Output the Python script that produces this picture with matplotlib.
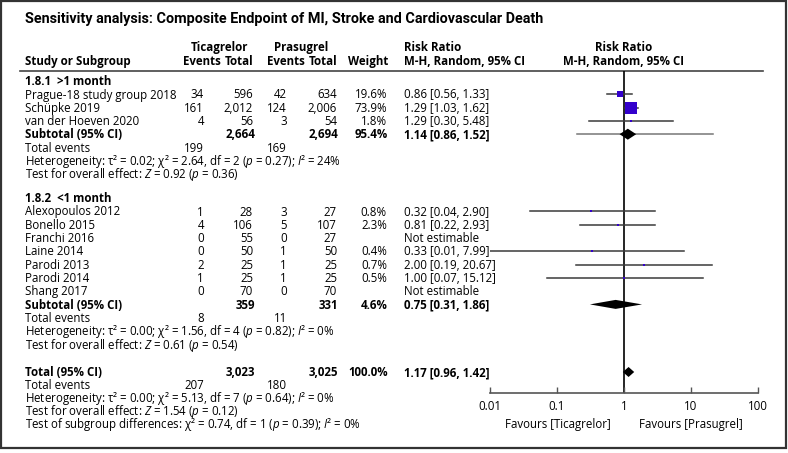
import numpy as np
import matplotlib.pyplot as plt
from matplotlib.patches import Rectangle

FONT = 'Open Sans'
plt.rcParams['font.family'] = [FONT, 'DejaVu Sans']
plt.rcParams['mathtext.fontset'] = 'custom'
plt.rcParams['mathtext.rm'] = FONT
plt.rcParams['mathtext.it'] = FONT + ':italic'
plt.rcParams['mathtext.bf'] = FONT + ':bold'

# ---- data ----
title = "Sensitivity analysis: Composite Endpoint of MI, Stroke and Cardiovascular Death"

g1_name = "1.8.1  >1 month"
g1_studies = ["Prague-18 study group 2018", "Schüpke 2019", "van der Hoeven 2020"]
g1_tic_ev = [34, 161, 4]
g1_tic_n = [596, 2012, 56]
g1_pra_ev = [42, 124, 3]
g1_pra_n = [634, 2006, 54]
g1_weight = [19.6, 73.9, 1.8]
g1_rr = [0.86, 1.29, 1.29]
g1_lo = [0.56, 1.03, 0.30]
g1_hi = [1.33, 1.62, 5.48]
g1_sub = dict(tic_n=2664, pra_n=2694, weight=95.4, rr=1.14, lo=0.86, hi=1.52,
              tic_ev=199, pra_ev=169)
g1_extra = (0.2, 21.0)  # grey line drawn through the subtotal row
g1_het = r"Heterogeneity: τ² = 0.02; χ² = 2.64, df = 2 ($p$ = 0.27); $I$² = 24%"
g1_test = r"Test for overall effect: $Z$ = 0.92 ($p$ = 0.36)"

g2_name = "1.8.2  <1 month"
g2_studies = ["Alexopoulos 2012", "Bonello 2015", "Franchi 2016", "Laine 2014",
              "Parodi 2013", "Parodi 2014", "Shang 2017"]
g2_tic_ev = [1, 4, 0, 0, 2, 1, 0]
g2_tic_n = [28, 106, 55, 50, 25, 25, 70]
g2_pra_ev = [3, 5, 0, 1, 1, 1, 0]
g2_pra_n = [27, 107, 27, 50, 25, 25, 70]
g2_weight = [0.8, 2.3, None, 0.4, 0.7, 0.5, None]
g2_rr = [0.32, 0.81, None, 0.33, 2.00, 1.00, None]
g2_lo = [0.04, 0.22, None, 0.01, 0.19, 0.07, None]
g2_hi = [2.90, 2.93, None, 7.99, 20.67, 15.12, None]
g2_sub = dict(tic_n=359, pra_n=331, weight=4.6, rr=0.75, lo=0.31, hi=1.86,
              tic_ev=8, pra_ev=11)
g2_het = r"Heterogeneity: τ² = 0.00; χ² = 1.56, df = 4 ($p$ = 0.82); $I$² = 0%"
g2_test = r"Test for overall effect: $Z$ = 0.61 ($p$ = 0.54)"

tot = dict(tic_n=3023, pra_n=3025, weight=100.0, rr=1.17, lo=0.96, hi=1.42,
           tic_ev=207, pra_ev=180)
tot_het = r"Heterogeneity: τ² = 0.00; χ² = 5.13, df = 7 ($p$ = 0.64); $I$² = 0%"
tot_test = r"Test for overall effect: $Z$ = 1.54 ($p$ = 0.12)"
tot_sub = r"Test of subgroup differences: χ² = 0.74, df = 1 ($p$ = 0.39); $I$² = 0%"

ticks = [0.01, 0.1, 1, 10, 100]
tick_labels = ["0.01", "0.1", "1", "10", "100"]
fav_left = "Favours [Ticagrelor]"
fav_right = "Favours [Prasugrel]"

# ---- layout (pixel units) ----
W, H = 788, 453
FS = 8.3
DY = 13.3
BLUE = '#3300cc'
X_STUDY, X_TE, X_TN, X_PE, X_PN, X_W, X_RR = 25, 204, 253, 287, 337, 387, 404
F_LEFT, F_RIGHT, F_TOP, F_AX = 490, 758, 71, 393

fig = plt.figure(figsize=(W / 100, H / 100), dpi=100)
ax = fig.add_axes([0, 0, 1, 1])
ax.set_xlim(0, W)
ax.set_ylim(H, 0)
ax.axis('off')

fx = fig.add_axes([F_LEFT / W, 1 - F_AX / H, (F_RIGHT - F_LEFT) / W, (F_AX - F_TOP) / H])
fx.set_xscale('log')
fx.set_xlim(ticks[0], ticks[-1])
fx.set_ylim(F_AX, F_TOP)
fx.patch.set_alpha(0)
for s in ['left', 'right', 'top']:
    fx.spines[s].set_visible(False)
fx.spines['bottom'].set_color('#555555')
fx.spines['bottom'].set_linewidth(1.2)
fx.set_yticks([])
fx.set_xticks(ticks)
fx.set_xticklabels(tick_labels, fontsize=FS)
fx.minorticks_off()
fx.tick_params(axis='x', direction='in', length=4, width=1, color='#555555', pad=5)
fx.plot([1, 1], [F_TOP, F_AX], color='black', lw=1.2, zorder=1)


def txt(x, y, s, ha='left', bold=False, size=FS, family=None):
    ax.text(x, y + 4.2, s, ha=ha, va='baseline', fontsize=size,
            fontweight='bold' if bold else 'normal', color='black',
            family=family)


def fmt(n):
    return f"{n:,}"


def study_row(y, name, te, tn, pe, pn, w, rr, lo, hi):
    txt(X_STUDY, y, name)
    txt(X_TE, y, str(te), ha='right')
    txt(X_TN, y, fmt(tn), ha='right')
    txt(X_PE, y, str(pe), ha='right')
    txt(X_PN, y, fmt(pn), ha='right')
    if rr is None:
        txt(X_RR, y, "Not estimable")
        return
    txt(X_W, y, f"{w:.1f}%", ha='right')
    txt(X_RR, y, f"{rr:.2f} [{lo:.2f}, {hi:.2f}]")
    fx.plot([lo, hi], [y, y], color='#3a3a3a', lw=1.1, zorder=2)
    side = max(2.0, 1.28 * np.sqrt(w))
    fx.plot([rr], [y], marker='s', linestyle='none', markersize=side * 0.72,
            markerfacecolor=BLUE, markeredgecolor=BLUE, markeredgewidth=0, zorder=3)


def summary_row(y, label, d, half=5.0):
    txt(X_STUDY, y, label, bold=True)
    txt(X_TN + 2, y, fmt(d['tic_n']), ha='right', bold=True)
    txt(X_PN + 1, y, fmt(d['pra_n']), ha='right', bold=True)
    txt(X_W + 1, y, f"{d['weight']:.1f}%", ha='right', bold=True)
    txt(X_RR, y, f"{d['rr']:.2f} [{d['lo']:.2f}, {d['hi']:.2f}]", bold=True)
    fx.fill([d['lo'], d['rr'], d['hi'], d['rr']], [y, y - half, y, y + half],
            color='black', lw=0, zorder=4)


def events_row(y, d):
    txt(X_STUDY, y, "Total events")
    txt(X_TE, y, str(d['tic_ev']), ha='right')
    txt(X_PE, y, str(d['pra_ev']), ha='right')


# frame, title, header
ax.add_patch(Rectangle((1, 1), W - 3, 447, fill=False, lw=1.6, ec='#333333'))
txt(25, 18.8, title, bold=True, size=10.4, family=['Roboto', 'DejaVu Sans'])
txt(220, 47, "Ticagrelor", ha='center', bold=True)
txt(301, 47, "Prasugrel", ha='center', bold=True)
txt(X_RR, 47, "Risk Ratio", bold=True)
txt(624, 47, "Risk Ratio", ha='center', bold=True)
txt(X_STUDY, 61, "Study or Subgroup", bold=True)
txt(221, 61, "Events", ha='right', bold=True)
txt(X_TN, 61, "Total", ha='right', bold=True)
txt(305, 61, "Events", ha='right', bold=True)
txt(X_PN, 61, "Total", ha='right', bold=True)
txt(X_W + 1, 61, "Weight", ha='right', bold=True)
txt(X_RR, 61, "M-H, Random, 95% CI", bold=True)
txt(624, 61, "M-H, Random, 95% CI", ha='center', bold=True)
ax.plot([20, 763], [71, 71], color='#444444', lw=1.2)

# group 1
y = 81
txt(X_STUDY, y, g1_name, bold=True)
for i in range(len(g1_studies)):
    y += DY
    study_row(y, g1_studies[i], g1_tic_ev[i], g1_tic_n[i], g1_pra_ev[i], g1_pra_n[i],
              g1_weight[i], g1_rr[i], g1_lo[i], g1_hi[i])
y += DY
fx.plot(g1_extra, [y, y], color='#777777', lw=1.1, zorder=2)
summary_row(y, "Subtotal (95% CI)", g1_sub, half=5.5)
y += DY
events_row(y, g1_sub)
y += DY
txt(X_STUDY, y, g1_het)
y += DY
txt(X_STUDY, y, g1_test)

# group 2
y = 198
txt(X_STUDY, y, g2_name, bold=True)
for i in range(len(g2_studies)):
    y += DY
    study_row(y, g2_studies[i], g2_tic_ev[i], g2_tic_n[i], g2_pra_ev[i], g2_pra_n[i],
              g2_weight[i], g2_rr[i], g2_lo[i], g2_hi[i])
y += DY
summary_row(y, "Subtotal (95% CI)", g2_sub, half=4.5)
y += DY
events_row(y, g2_sub)
y += DY
txt(X_STUDY, y, g2_het)
y += DY
txt(X_STUDY, y, g2_test)

# overall
y = 372
summary_row(y, "Total (95% CI)", tot, half=5.0)
for s in [None, tot_het, tot_test, tot_sub]:
    y += 12.9
    if s is None:
        events_row(y, tot)
    else:
        txt(X_STUDY, y, s)

txt(558, 424, fav_left, ha='center')
txt(691, 424, fav_right, ha='center')

fig.savefig('out.png', dpi=100)
